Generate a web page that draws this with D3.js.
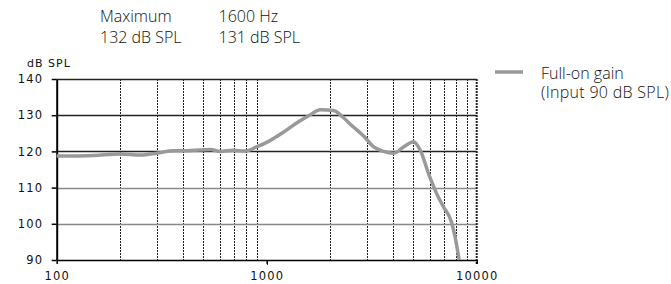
<!DOCTYPE html>
<html lang="en">
<head>
  <meta charset="utf-8">
  <title>Full-on gain</title>
  <script src="https://d3js.org/d3.v7.min.js"></script>
  <style>
    body { margin: 0; background: #fff; }
    .note { font-family: "Open Sans", sans-serif; font-weight: 300; font-size: 16px; fill: #111; }
    .axis-text { font-family: "DejaVu Sans", Verdana, sans-serif; font-size: 11.5px; fill: #111; letter-spacing: 1.2px; }
  </style>
</head>
<body>
  <script>
    // frequency response
    var freqs = [100, 150, 200, 250, 300, 360, 420, 480, 540, 600, 690, 790, 900, 1000, 1200, 1400, 1600, 1800, 2080, 2300, 2580, 2900, 3220, 3600, 4030, 4500, 5000, 5380, 5970, 6440, 6940, 7570, 7890, 8250];
    var gain  = [118.7, 118.9, 119.3, 119.0, 119.5, 120.2, 120.2, 120.4, 120.5, 120.0, 120.3, 120.1, 121.3, 122.5, 125.3, 128.0, 130.0, 131.5, 131.3, 129.5, 126.8, 124.2, 121.3, 120.0, 119.5, 121.3, 122.7, 120.4, 113.0, 108.4, 104.7, 100.6, 96.4, 90.0];
    var yTicks = [90, 100, 110, 120, 130, 140];
    var xTicks = [100, 1000, 10000];
    var xGrid = [200, 300, 400, 500, 600, 700, 800, 900, 2000, 3000, 4000, 5000, 6000, 7000, 8000, 9000];
    var darkRows = [120, 130, 140];
    var notes = [["Maximum", "132 dB SPL"], ["1600 Hz", "131 dB SPL"]];
    var legendLines = ["Full-on gain", "(Input 90 dB SPL)"];

    var width = 671, height = 284;
    var svg = d3.select("body").append("svg")
      .attr("width", width)
      .attr("height", height);

    var x = d3.scaleLog().domain([100, 10000]).range([56.7, 476.7]);
    var y = d3.scaleLinear().domain([90, 140]).range([260, 79]);

    // notes at the top, two columns of two lines
    var noteX = [100, 218.5];
    var noteText = svg.selectAll(".note-col").data(notes).enter().append("text")
      .attr("class", "note")
      .attr("y", 21.5);
    noteText.selectAll("tspan").data(function(d, i) { return d.map(function(s) { return [s, noteX[i]]; }); })
      .enter().append("tspan")
      .attr("x", function(d) { return d[1]; })
      .attr("dy", function(d, i) { return i ? 21.5 : 0; })
      .text(function(d) { return d[0]; });

    svg.append("text").attr("class", "axis-text")
      .attr("x", 27).attr("y", 67).style("font-size", "11px").style("letter-spacing", "1px")
      .text("dB SPL");

    // vertical grid
    svg.selectAll(".vgrid").data(xGrid).enter().append("line")
      .attr("x1", function(d) { return Math.round(x(d)) + 0.5; })
      .attr("x2", function(d) { return Math.round(x(d)) + 0.5; })
      .attr("y1", y(140)).attr("y2", y(90))
      .attr("stroke", "#222").attr("stroke-width", 1)
      .attr("stroke-dasharray", "2,1");

    // horizontal grid
    svg.selectAll(".hgrid").data(yTicks.slice(1)).enter().append("line")
      .attr("x1", x(100)).attr("x2", x(10000))
      .attr("y1", function(d) { return Math.round(y(d)) + 0.5; })
      .attr("y2", function(d) { return Math.round(y(d)) + 0.5; })
      .attr("stroke", function(d) { return darkRows.indexOf(d) >= 0 ? "#222" : "#888"; })
      .attr("stroke-width", 1.3);

    // right border at 10000
    svg.append("line")
      .attr("x1", x(10000)).attr("x2", x(10000))
      .attr("y1", y(140)).attr("y2", y(90) + 5)
      .attr("stroke", "#222").attr("stroke-width", 2)
      .attr("stroke-dasharray", "2,1");

    // 1000 line reaches below the axis
    svg.append("line")
      .attr("x1", Math.round(x(1000)) + 0.5).attr("x2", Math.round(x(1000)) + 0.5)
      .attr("y1", y(90)).attr("y2", y(90) + 5)
      .attr("stroke", "#333").attr("stroke-width", 1);

    // left axis
    var yAxis = svg.append("g")
      .attr("transform", "translate(" + x(100) + ",0)")
      .call(d3.axisLeft(y).tickValues(yTicks).tickSize(5).tickSizeOuter(0).tickPadding(8.5));
    yAxis.select(".domain").attr("stroke", "#000").attr("stroke-width", 2);
    yAxis.selectAll(".tick line").attr("stroke", "#000").attr("stroke-width", 1.5);
    yAxis.selectAll(".tick text").attr("class", "axis-text").attr("font-family", null).attr("font-size", null).attr("fill", null);

    // bottom axis
    var xAxis = svg.append("g")
      .attr("transform", "translate(0," + y(90) + ")")
      .call(d3.axisBottom(x).tickValues(xTicks).tickFormat(d3.format("d")).tickSize(4).tickSizeOuter(0).tickPadding(8));
    xAxis.select(".domain").attr("stroke", "#000").attr("stroke-width", 1.5);
    xAxis.selectAll(".tick line").attr("stroke", "#000").attr("stroke-width", 1.5);
    xAxis.selectAll(".tick text").attr("class", "axis-text").attr("font-family", null).attr("font-size", null).attr("fill", null);

    // curve
    var line = d3.line()
      .x(function(d, i) { return x(freqs[i]); })
      .y(function(d) { return y(d); })
      .curve(d3.curveMonotoneX);

    svg.append("path")
      .datum(gain)
      .attr("d", line)
      .attr("fill", "none")
      .attr("stroke", "#999")
      .attr("stroke-width", 3.5)
      .attr("stroke-linejoin", "round");

    // legend
    svg.append("line")
      .attr("x1", 495).attr("x2", 523).attr("y1", 72).attr("y2", 72)
      .attr("stroke", "#999").attr("stroke-width", 3.5);
    svg.append("text").attr("class", "note").attr("y", 79)
      .selectAll("tspan").data(legendLines).enter().append("tspan")
      .attr("x", 541)
      .attr("dy", function(d, i) { return i ? 18.5 : 0; })
      .style("letter-spacing", function(d, i) { return i ? "0.3px" : null; })
      .text(function(d) { return d; });
  </script>
</body>
</html>
